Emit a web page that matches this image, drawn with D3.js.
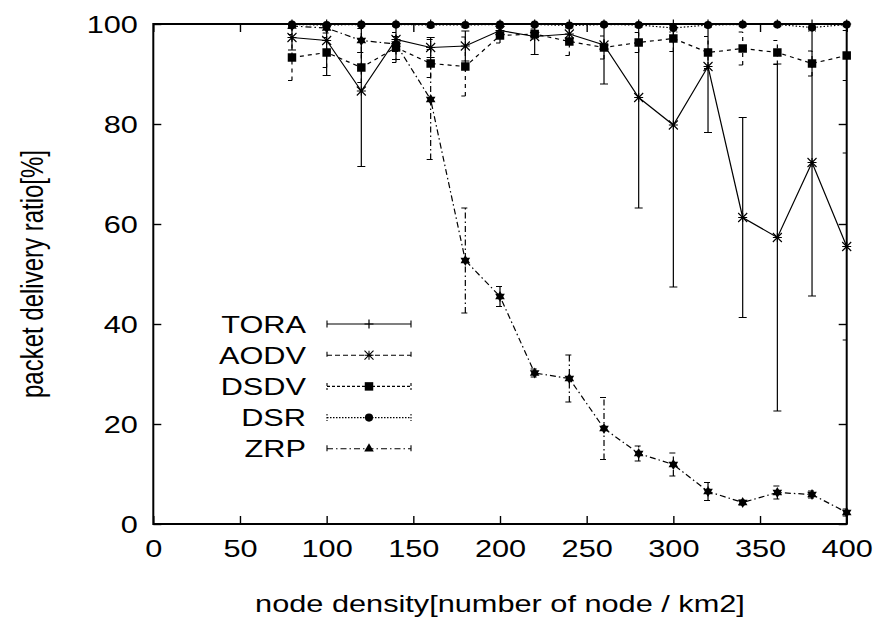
<!DOCTYPE html>
<html>
<head>
<meta charset="utf-8">
<script src="https://cdn.jsdelivr.net/npm/d3@7/dist/d3.min.js"></script>
<style>
  body { margin: 0; background: #fff; }
  svg text { font-family: "Liberation Sans", Arial, sans-serif; fill: #000; }
</style>
</head>
<body>
<svg id="chart" width="879" height="619"></svg>
<script>
// ノード密度 ( x 軸 )
const density = [80, 100, 120, 140, 160, 180, 200, 220, 240, 260, 280, 300, 320, 340, 360, 380, 400];

// 凡例の名前
const seriesNames = ["TORA", "AODV", "DSDV", "DSR", "ZRP"];

// パケット到達率と誤差 ( 画像から読み取り )
const toraPdr = [100, 100, 100, 100, 100, 100, 100, 100, 100, 100, 100, 100, 100, 100, 100, 100, 100];
const toraErr = [0, 0, 0, 0, 0, 0, 0, 0, 0, 0, 0, 0, 0, 0, 0, 0, 0];
const aodvPdr = [97.3, 96.7, 86.6, 96.9, 95.3, 95.6, 98.7, 97.5, 98.0, 95.8, 85.3, 79.8, 91.5, 61.3, 57.3, 72.3, 55.5];
const aodvErr = [2.5, 7.0, 15.1, 4.0, 2.0, 3.0, 1.5, 3.6, 1.5, 7.8, 22.1, 32.4, 13.2, 20.0, 34.7, 26.7, 18.7];
const dsdvPdr = [93.3, 94.3, 91.3, 95.3, 92.1, 91.5, 97.7, 98.0, 96.5, 95.3, 96.3, 97.1, 94.3, 95.1, 94.3, 92.1, 93.7];
const dsdvErr = [4.6, 3.0, 3.0, 3.0, 2.8, 5.9, 1.5, 1.0, 2.8, 2.3, 2.0, 2.6, 3.2, 3.3, 2.4, 2.5, 5.0];
const dsrPdr = [99.9, 99.8, 99.9, 99.9, 99.8, 99.8, 99.9, 99.9, 99.7, 99.9, 99.8, 99.2, 99.8, 99.9, 99.9, 99.3, 99.9];
const dsrErr = [0.3, 0.4, 0.3, 0.3, 0.4, 0.4, 0.3, 0.3, 0.5, 0.3, 0.4, 0.8, 0.4, 0.3, 0.3, 0.7, 0.3];
const zrpPdr = [99.6, 99.2, 96.7, 96.0, 84.9, 52.7, 45.5, 30.2, 29.1, 19.1, 14.1, 11.9, 6.5, 4.3, 6.3, 5.9, 2.3];
const zrpErr = [0.5, 1.0, 2.4, 1.5, 12.0, 10.5, 2.0, 0.8, 4.7, 6.2, 1.5, 2.3, 1.8, 0.5, 1.3, 0.7, 0.7];

// 目盛り
const xTicks = [0, 50, 100, 150, 200, 250, 300, 350, 400];
const yTicks = [0, 20, 40, 60, 80, 100];

const xTitle = "node density[number of node / km2]";
const yTitle = "packet delivery ratio[%]";

// 描画領域
const margin = {top: 24, right: 32.3, bottom: 95, left: 153.3};
const width = 879, height = 619;
const stretch = 1.28;   // 元画像は文字が横に伸びている

const svg = d3.select("#chart");

const x = d3.scaleLinear().domain([0, 400]).range([margin.left, width - margin.right]);
const y = d3.scaleLinear().domain([0, 100]).range([height - margin.bottom, margin.top]);

// 系列ごとのスタイル
const pdrs = [toraPdr, aodvPdr, dsdvPdr, dsrPdr, zrpPdr];
const errs = [toraErr, aodvErr, dsdvErr, dsrErr, zrpErr];
const markers = ["plus", "asterisk", "square", "circle", "triangle"];
const plotDash = [null, null, "4,4", "1.5,2", "6,3,1.5,3"];
const keyDash = [null, "5,3", "3,2", "1.5,1.5", "6,3,1.5,3"];

/* マーカーを描画する */
function drawMarker(g, type, cx, cy, inPlot) {
  const m = g.append("g").attr("transform", `translate(${cx},${cy})`);
  const r = 4.5;
  if (type === "plus") {
    m.append("path").attr("d", `M${-r},0H${r}M0,${-r}V${r}`)
      .attr("stroke", "#000").attr("stroke-width", 1.2);
  } else if (type === "asterisk") {
    m.append("path")
      .attr("d", `M${-r},0H${r}M0,${-r}V${r}M${-r},${-r}L${r},${r}M${-r},${r}L${r},${-r}`)
      .attr("stroke", "#000").attr("stroke-width", 1.1);
  } else if (type === "square") {
    m.append("path").attr("d", d3.symbol(d3.symbolSquare, 72)()).attr("fill", "#000");
  } else if (type === "circle") {
    m.append("path").attr("d", d3.symbol(d3.symbolCircle, 52)()).attr("fill", "#000");
  } else if (type === "triangle") {
    m.append("path").attr("d", d3.symbol(d3.symbolTriangle, 40)()).attr("fill", "#000");
    if (inPlot) {
      // プロット上では上下の三角が重なって星形に見える
      m.append("path").attr("d", d3.symbol(d3.symbolTriangle, 40)())
        .attr("transform", "rotate(180)").attr("fill", "#000");
    }
  }
}

// クリップ領域
svg.append("defs").append("clipPath").attr("id", "plotClip")
  .append("rect")
  .attr("x", x(0)).attr("y", y(100))
  .attr("width", x(400) - x(0)).attr("height", y(0) - y(100));

// 目盛り ( 下・左にラベル、上・右は目盛りのみ )
const gx = svg.append("g").attr("transform", `translate(0,${y(0)})`)
  .call(d3.axisBottom(x).tickValues(xTicks).tickSizeInner(-8).tickSizeOuter(0).tickPadding(16));
const gy = svg.append("g").attr("transform", `translate(${x(0)},0)`)
  .call(d3.axisLeft(y).tickValues(yTicks).tickSizeInner(-8).tickSizeOuter(0).tickPadding(12));
const gt = svg.append("g").attr("transform", `translate(0,${y(100)})`)
  .call(d3.axisTop(x).tickValues(xTicks).tickSizeInner(-8).tickSizeOuter(0).tickFormat(""));
const gr = svg.append("g").attr("transform", `translate(${x(400)},0)`)
  .call(d3.axisRight(y).tickValues(yTicks).tickSizeInner(-8).tickSizeOuter(0).tickFormat(""));

[gx, gy, gt, gr].forEach(g => {
  g.select(".domain").remove();
  g.selectAll("line").attr("stroke", "#000").attr("stroke-width", 1.4);
  g.selectAll("text")
    .attr("font-size", 24)
    .attr("font-family", "Liberation Sans, Arial, sans-serif")
    .attr("fill", "#000")
    .attr("transform", `scale(${stretch},1)`);
});
gy.selectAll("text").attr("dy", "0.36em");

// 系列を描画する
const line = d3.line().x(d => x(d[0])).y(d => y(d[1]));
const plotG = svg.append("g");

seriesNames.forEach((name, i) => {
  const data = density.map((d, j) => [d, pdrs[i][j], errs[i][j]]);
  const g = plotG.append("g").attr("class", `series-${name}`);

  // 誤差棒
  const eb = g.append("g").attr("clip-path", "url(#plotClip)")
    .attr("stroke", "#000").attr("stroke-width", 1.2).attr("fill", "none")
    .attr("stroke-dasharray", plotDash[i]);
  data.filter(d => d[2] > 0).forEach(d => {
    const lo = y(d[1] - d[2]), hi = y(d[1] + d[2]), cx = x(d[0]);
    eb.append("path")
      .attr("d", `M${cx},${lo}V${hi}M${cx - 4},${lo}H${cx + 4}M${cx - 4},${hi}H${cx + 4}`)
      .attr("stroke-dasharray", i === 1 ? null : plotDash[i]);
  });

  // 折れ線
  g.append("path")
    .datum(data)
    .attr("d", line)
    .attr("fill", "none")
    .attr("stroke", "#000")
    .attr("stroke-width", 1.2)
    .attr("stroke-dasharray", plotDash[i]);

  // マーカー
  data.forEach(d => drawMarker(g, markers[i], x(d[0]), y(d[1]), true));
});

// 枠
svg.append("rect")
  .attr("x", x(0)).attr("y", y(100))
  .attr("width", x(400) - x(0)).attr("height", y(0) - y(100))
  .attr("fill", "none").attr("stroke", "#000").attr("stroke-width", 2);

// 凡例
const key = svg.append("g");
const keyTextX = 306, keyX0 = 327, keyX1 = 411, keyY0 = 324, keyStep = 31.2;
seriesNames.forEach((name, i) => {
  const ky = keyY0 + i * keyStep;
  key.append("text")
    .attr("transform", `translate(${keyTextX},${ky}) scale(${stretch},1)`)
    .attr("text-anchor", "end")
    .attr("dy", "0.36em")
    .attr("font-size", 24)
    .text(name);
  key.append("path")
    .attr("d", `M${keyX0},${ky}H${keyX1}M${keyX0},${ky - 3.5}V${ky + 3.5}M${keyX1},${ky - 3.5}V${ky + 3.5}`)
    .attr("stroke", "#000").attr("stroke-width", 1.1).attr("fill", "none")
    .attr("stroke-dasharray", keyDash[i]);
  drawMarker(key, markers[i], (keyX0 + keyX1) / 2, ky, false);
});

// 軸ラベル
svg.append("text")
  .attr("transform", `translate(${(x(0) + x(400)) / 2},${612}) scale(${stretch},1)`)
  .attr("text-anchor", "middle")
  .attr("font-size", 24)
  .text(xTitle);

svg.append("text")
  .attr("transform", `translate(${43},${(y(0) + y(100)) / 2}) rotate(-90) scale(1,${stretch})`)
  .attr("text-anchor", "middle")
  .attr("font-size", 24)
  .text(yTitle);
</script>
</body>
</html>
